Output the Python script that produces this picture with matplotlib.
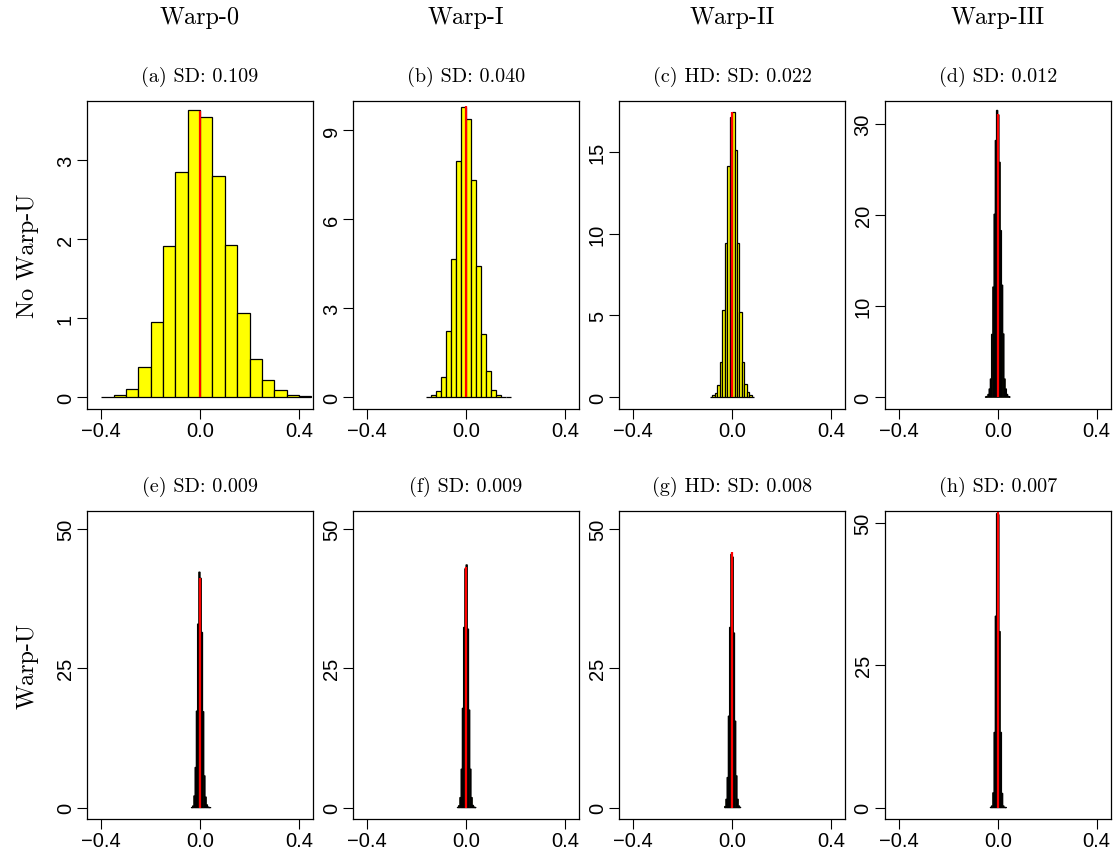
import numpy as np
import matplotlib
matplotlib.use("Agg")
import matplotlib.pyplot as plt

# panel labels
panel_titles = ["(a) SD: 0.109", "(b) SD: 0.040", "(c) HD: SD: 0.022", "(d) SD: 0.012",
                "(e) SD: 0.009", "(f) SD: 0.009", "(g) HD: SD: 0.008", "(h) SD: 0.007"]
col_labels = ["Warp-0", "Warp-I", "Warp-II", "Warp-III"]
row_labels = ["No Warp-U", "Warp-U"]

# histogram breaks: first break and bin width of each panel
bin_start = [-0.40, -0.16, -0.09, -0.05, -0.035, -0.035, -0.03, -0.03]
bin_width = [0.05, 0.02, 0.01, 0.005, 0.005, 0.005, 0.005, 0.005]

# densities per bin
dens_a = [0.0, 0.03, 0.10, 0.375, 0.957, 1.91, 2.845, 3.63, 3.54, 2.80, 1.93, 1.06,
          0.485, 0.22, 0.085, 0.03, 0.01]
dens_b = [0.02, 0.08, 0.21, 0.69, 2.22, 4.65, 7.96, 9.79, 9.40, 7.34, 4.44, 2.12,
          0.87, 0.25, 0.06, 0.02, 0.0]
dens_c = [0.0, 0.10, 0.27, 0.73, 2.16, 5.33, 9.43, 14.18, 17.16, 17.47, 15.12, 9.45,
          5.20, 2.16, 0.78, 0.31, 0.10, 0.02]
dens_d = [0.02, 0.08, 0.30, 0.90, 2.0, 6.9, 12.1, 20.1, 28.2, 31.5, 31.0, 25.8,
          18.3, 12.3, 6.95, 2.0, 0.9, 0.3, 0.08, 0.02]
dens_e = [0.02, 0.3, 2.1, 7.2, 17.3, 32.9, 42.2, 41.1, 31.4, 17.2, 5.7, 1.9,
          0.5, 0.1, 0.02, 0.0]
dens_f = [0.05, 0.35, 1.8, 6.9, 17.8, 32.3, 42.8, 43.5, 32.0, 17.5, 6.9, 1.8,
          0.4, 0.1, 0.02]
dens_g = [0.2, 1.5, 5.4, 16.4, 32.3, 45.4, 44.9, 31.3, 15.5, 5.7, 1.5, 0.3, 0.05]
dens_h = [0.05, 0.3, 2.6, 13.2, 33.6, 51.6, 51.4, 30.9, 13.2, 2.5, 0.3, 0.05, 0.02]
densities = [dens_a, dens_b, dens_c, dens_d, dens_e, dens_f, dens_g, dens_h]

# height of the red reference segment at 0
ref_height = [3.62, 9.83, 17.47, 31.1, 41.1, 43.2, 45.8, 52.0]

# y range (data max before the 4% padding) and y ticks
y_max = [3.6, 9.6, 17.42, 31.25, 51.06, 51.06, 51.06, 50.0]
y_ticks = [[0, 1, 2, 3], [0, 3, 6, 9], [0, 5, 10, 15], [0, 10, 20, 30],
           [0, 25, 50], [0, 25, 50], [0, 25, 50], [0, 25, 50]]
x_ticks = [-0.4, 0.0, 0.4]

W, H = 1115, 854
fig = plt.figure(figsize=(W / 100, H / 100), dpi=100)

serif = "cmr10"
sans = "Liberation Sans"

lefts = [87.3, 353.3, 619.3, 885.0]
box_w = 225.5
rows = [(102.3, 409.5), (512.3, 820.0)]

for i in range(8):
    r, c = divmod(i, 4)
    top, bot = rows[r]
    ax = fig.add_axes([lefts[c] / W, 1 - bot / H, box_w / W, (bot - top) / H])

    dens = densities[i]
    edges = bin_start[i] + bin_width[i] * np.arange(len(dens))
    # very narrow bins: let the outlines blend instead of snapping to pixels
    narrow = bin_width[i] < 0.01
    ax.bar(edges, dens, width=bin_width[i], align="edge", color="yellow",
           edgecolor="black", linewidth=0.9, snap=not narrow)
    ax.plot([0, 0], [0, ref_height[i]], color="red", lw=1.6, solid_capstyle="butt")

    ax.set_xlim(-0.456, 0.456)
    ax.set_ylim(-0.04 * y_max[i], 1.04 * y_max[i])
    ax.set_xticks(x_ticks)
    ax.set_xticklabels(["\u22120.4", "0.0", "0.4"], fontfamily=sans, fontsize=14.5)
    ax.set_yticks(y_ticks[i])
    ax.set_yticklabels([str(v) for v in y_ticks[i]], fontfamily=sans, fontsize=14.5,
                       rotation=90, va="center")
    ax.tick_params(direction="out", length=7, width=0.8, pad=2)
    for s in ax.spines.values():
        s.set_linewidth(0.9)

    ax.set_title(panel_titles[i], fontfamily=serif, fontsize=14.5, pad=15)

for c, lab in enumerate(col_labels):
    fig.text((lefts[c] + box_w / 2) / W, 1 - 18 / H, lab, fontfamily=serif,
             fontsize=17.5, ha="center", va="center")

row_mid = [256, 666]
for r, lab in enumerate(row_labels):
    fig.text(28 / W, 1 - row_mid[r] / H, lab, fontfamily=serif, fontsize=17.5,
             rotation=90, ha="center", va="center")

fig.savefig("out.png", dpi=100)
